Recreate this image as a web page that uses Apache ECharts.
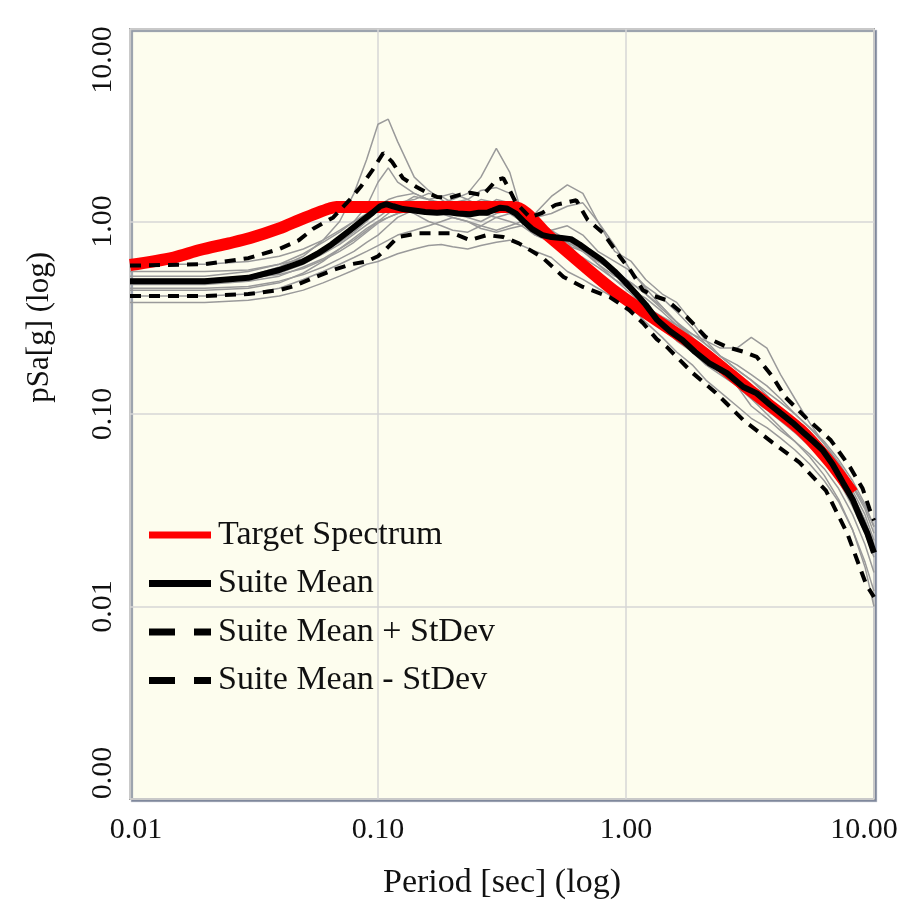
<!DOCTYPE html>
<html>
<head>
<meta charset="utf-8">
<script src="https://cdn.jsdelivr.net/npm/echarts@6/dist/echarts.min.js"></script>
<style>html,body{margin:0;padding:0;background:#fff;}#c{width:909px;height:906px;}</style>
</head>
<body>
<div id="c"></div>
<script>
// ---- data (periods in sec, pSa in g) ----
const targetT = [0.01,0.015,0.0191,0.025,0.0305,0.04,0.0484,0.057,0.064,0.068,0.35,0.494,0.91,1.99,3.16,5.04,6.65,8.2];
const targetSa = [0.594,0.65,0.711,0.77,0.82,0.92,1.02,1.11,1.17,1.19,1.19,0.83,0.43,0.215,0.133,0.083,0.056,0.039];

const meanT = [0.01,0.02,0.03,0.04,0.05,0.057,0.065,0.077,0.087,0.095,0.102,0.108,0.115,0.126,0.14,0.155,0.173,0.19,0.21,0.235,0.255,0.275,0.29,0.31,0.33,0.36,0.39,0.42,0.46,0.5,0.55,0.6,0.65,0.7,0.8,0.9,1.0,1.1,1.2,1.33,1.5,1.69,1.9,2.16,2.55,2.97,3.37,3.8,4.2,4.7,5.2,5.7,6.2,6.8,7.5,8.2,8.8,9.4,10];
const meanSa = [0.49,0.49,0.51,0.56,0.62,0.68,0.76,0.90,1.02,1.11,1.20,1.23,1.20,1.16,1.14,1.12,1.11,1.12,1.10,1.09,1.11,1.11,1.14,1.18,1.17,1.10,0.99,0.91,0.85,0.83,0.82,0.81,0.76,0.71,0.63,0.55,0.48,0.42,0.37,0.31,0.27,0.242,0.21,0.184,0.163,0.138,0.128,0.112,0.101,0.09,0.080,0.072,0.065,0.055,0.044,0.036,0.029,0.024,0.019];

const upperT = [0.01,0.02,0.03,0.04,0.048,0.055,0.066,0.077,0.085,0.095,0.105,0.114,0.126,0.143,0.16,0.173,0.195,0.215,0.235,0.265,0.30,0.32,0.34,0.36,0.41,0.46,0.52,0.63,0.70,0.81,0.95,1.05,1.17,1.3,1.46,1.76,2.1,2.55,3.0,3.37,3.9,4.4,5.3,6.7,8.0,9.0,9.6,10];
const upperSa = [0.59,0.60,0.645,0.72,0.80,0.92,1.05,1.30,1.51,1.85,2.27,2.04,1.68,1.51,1.40,1.34,1.33,1.38,1.41,1.37,1.64,1.68,1.45,1.25,1.05,1.11,1.22,1.29,1.02,0.87,0.65,0.55,0.44,0.41,0.39,0.319,0.251,0.223,0.21,0.198,0.156,0.122,0.096,0.073,0.053,0.041,0.032,0.028];

const lowerT = [0.01,0.02,0.03,0.04,0.0454,0.055,0.066,0.078,0.09,0.1,0.108,0.12,0.147,0.20,0.235,0.275,0.32,0.37,0.46,0.56,0.67,0.86,1.03,1.17,1.33,1.46,1.86,2.3,2.97,3.9,5.0,6.4,7.8,9.3,10];
const lowerSa = [0.41,0.41,0.42,0.44,0.46,0.51,0.56,0.60,0.62,0.66,0.72,0.83,0.87,0.87,0.80,0.85,0.83,0.77,0.65,0.515,0.457,0.405,0.347,0.297,0.245,0.223,0.163,0.129,0.093,0.071,0.056,0.040,0.024,0.013,0.0112];

const recordT = [0.01,0.02,0.03,0.04,0.05,0.06,0.07,0.08,0.09,0.1,0.11,0.12,0.14,0.16,0.18,0.2,0.23,0.26,0.3,0.34,0.38,0.43,0.5,0.58,0.67,0.77,0.9,1.05,1.2,1.4,1.6,1.85,2.1,2.4,2.8,3.2,3.7,4.2,4.8,5.5,6.3,7.2,8.2,9.2,10];
const rec1 = [0.50,0.50,0.52,0.58,0.66,0.80,1.00,1.40,2.10,3.20,3.40,2.60,1.70,1.45,1.30,1.20,1.05,1.00,1.10,1.15,1.00,0.85,0.80,0.78,0.70,0.62,0.55,0.46,0.38,0.30,0.26,0.22,0.19,0.17,0.15,0.13,0.115,0.10,0.088,0.078,0.066,0.052,0.040,0.030,0.022];
const rec2 = [0.47,0.47,0.49,0.52,0.58,0.64,0.72,0.80,0.90,1.00,1.05,1.10,1.15,1.20,1.25,1.30,1.40,1.70,2.40,1.80,1.10,0.90,0.80,0.75,0.70,0.60,0.50,0.42,0.35,0.30,0.26,0.22,0.19,0.17,0.14,0.12,0.105,0.092,0.080,0.068,0.058,0.045,0.033,0.024,0.018];
const rec3 = [0.52,0.52,0.55,0.60,0.68,0.78,0.88,1.00,1.10,1.20,1.30,1.35,1.40,1.30,1.25,1.20,1.15,1.10,1.05,1.00,0.95,1.10,1.35,1.55,1.40,1.00,0.75,0.55,0.45,0.36,0.30,0.25,0.22,0.19,0.16,0.14,0.12,0.10,0.090,0.076,0.064,0.050,0.038,0.028,0.020];
const rec4 = [0.38,0.38,0.39,0.41,0.44,0.48,0.52,0.56,0.60,0.62,0.65,0.68,0.72,0.75,0.76,0.74,0.72,0.75,0.78,0.80,0.75,0.70,0.65,0.55,0.50,0.45,0.40,0.36,0.30,0.25,0.21,0.18,0.15,0.13,0.11,0.095,0.085,0.075,0.065,0.055,0.045,0.035,0.025,0.016,0.010];
const rec5 = [0.44,0.44,0.45,0.48,0.54,0.62,0.72,0.82,0.92,1.00,1.10,1.20,1.35,1.30,1.20,1.15,1.20,1.30,1.25,1.15,1.05,0.95,0.85,0.80,0.70,0.62,0.55,0.48,0.42,0.36,0.30,0.26,0.24,0.22,0.22,0.25,0.22,0.16,0.12,0.090,0.070,0.055,0.042,0.032,0.024];
const rec6 = [0.60,0.60,0.62,0.66,0.72,0.80,0.90,1.00,1.20,1.60,1.90,1.60,1.40,1.30,1.35,1.40,1.30,1.20,1.15,1.10,1.10,1.05,1.10,1.20,1.25,1.00,0.70,0.62,0.50,0.42,0.38,0.30,0.24,0.20,0.17,0.15,0.13,0.115,0.10,0.085,0.072,0.058,0.045,0.034,0.026];
const rec7 = [0.41,0.41,0.42,0.45,0.50,0.55,0.60,0.65,0.70,0.75,0.80,0.85,0.90,0.95,1.00,1.05,1.00,0.95,0.90,0.95,1.00,0.90,0.80,0.70,0.60,0.52,0.45,0.40,0.36,0.32,0.29,0.25,0.20,0.17,0.14,0.12,0.10,0.085,0.072,0.060,0.048,0.036,0.025,0.017,0.012];
const rec8 = [0.48,0.48,0.50,0.54,0.60,0.68,0.76,0.86,0.96,1.05,1.15,1.25,1.30,1.40,1.35,1.25,1.30,1.45,1.50,1.40,1.20,1.00,0.90,0.80,0.72,0.60,0.52,0.48,0.42,0.35,0.30,0.24,0.20,0.18,0.16,0.13,0.11,0.095,0.082,0.070,0.060,0.048,0.036,0.026,0.019];
const rec9 = [0.55,0.55,0.56,0.60,0.64,0.70,0.78,0.88,1.00,1.15,1.25,1.20,1.10,1.00,0.95,0.90,0.88,0.95,1.05,1.10,1.00,0.92,0.85,0.78,0.62,0.50,0.42,0.37,0.33,0.28,0.24,0.21,0.18,0.16,0.14,0.11,0.095,0.082,0.072,0.062,0.052,0.041,0.030,0.021,0.015];
const rec10 = [0.45,0.45,0.46,0.49,0.53,0.58,0.64,0.70,0.78,0.85,0.95,1.05,1.15,1.25,1.20,1.10,1.05,1.15,1.30,1.25,1.10,1.00,0.90,0.95,0.85,0.70,0.62,0.55,0.46,0.40,0.34,0.28,0.23,0.20,0.18,0.16,0.14,0.12,0.10,0.085,0.070,0.056,0.043,0.033,0.026];
const rec11 = [0.50,0.50,0.51,0.53,0.57,0.63,0.70,0.78,0.88,0.98,1.05,1.10,1.20,1.15,1.10,1.05,1.00,0.92,0.88,0.92,0.95,0.85,0.78,0.70,0.65,0.58,0.50,0.44,0.40,0.34,0.29,0.26,0.23,0.20,0.17,0.15,0.125,0.105,0.09,0.075,0.062,0.050,0.038,0.028,0.021];
const records = [rec1,rec2,rec3,rec4,rec5,rec6,rec7,rec8,rec9,rec10,rec11];

const legendNames = ['Target Spectrum','Suite Mean','Suite Mean + StDev','Suite Mean - StDev'];
const xTitle = 'Period [sec] (log)';
const yTitle = 'pSa[g] (log)';

// ---- build ----
const zip = (t, v) => t.map((x, i) => [x, v[i]]);
const FONT = '"Liberation Serif","Times New Roman",serif';
const TICK = 30;
const SOLID_ICON = 'path://M0,0h62v7h-62z';
const DASH_ICON = 'path://M0,0h26v7h-26zM45,0h17v7h-17z';

const series = [];
records.forEach((r, i) => {
  series.push({
    name: 'Record ' + (i + 1), type: 'line', data: zip(recordT, r),
    symbol: 'none', silent: true, z: 1,
    lineStyle: { color: '#9a9a9a', width: 1.5 }
  });
});
series.push({ name: legendNames[0], type: 'line', data: zip(targetT, targetSa), symbol: 'none', smooth: 0.3, z: 2,
  lineStyle: { color: '#ff0000', width: 12 }, itemStyle: { color: '#ff0000' } });
series.push({ name: legendNames[2], type: 'line', data: zip(upperT, upperSa), symbol: 'none', z: 3,
  lineStyle: { color: '#000', width: 4, type: [11, 8], cap: 'butt' }, itemStyle: { color: '#000' } });
series.push({ name: legendNames[3], type: 'line', data: zip(lowerT, lowerSa), symbol: 'none', z: 3,
  lineStyle: { color: '#000', width: 4, type: [11, 8], cap: 'butt' }, itemStyle: { color: '#000' } });
series.push({ name: legendNames[1], type: 'line', data: zip(meanT, meanSa), symbol: 'none', z: 4,
  lineStyle: { color: '#000', width: 6 }, itemStyle: { color: '#000' } });

const chart = echarts.init(document.getElementById('c'));
chart.setOption({
  animation: false,
  backgroundColor: '#ffffff',
  grid: {
    left: 130, top: 29, right: 35, bottom: 107, show: true,
    backgroundColor: '#fdfdee', borderColor: '#a3a3a3', borderWidth: 2,
    shadowColor: 'rgba(120,130,150,0.8)', shadowOffsetX: 2, shadowOffsetY: 2, shadowBlur: 1
  },
  legend: {
    data: [
      { name: legendNames[0], icon: SOLID_ICON, itemStyle: { color: '#ff0000' } },
      { name: legendNames[1], icon: SOLID_ICON, itemStyle: { color: '#000' } },
      { name: legendNames[2], icon: DASH_ICON, itemStyle: { color: '#000' } },
      { name: legendNames[3], icon: DASH_ICON, itemStyle: { color: '#000' } }
    ],
    orient: 'vertical', left: 144, top: 513, itemWidth: 62, itemHeight: 7, itemGap: 14.5,
    textStyle: { fontFamily: FONT, fontSize: 34, color: '#111', padding: [0, 0, 0, 2] }
  },
  xAxis: {
    type: 'log', logBase: 10, min: 0.01, max: 10,
    name: xTitle, nameLocation: 'middle', nameGap: 67,
    nameTextStyle: { fontFamily: FONT, fontSize: 34, color: '#111' },
    axisLine: { show: false }, axisTick: { show: false },
    splitLine: { show: true, lineStyle: { color: '#d6d6d6', width: 1.5 } },
    axisLabel: {
      margin: 16, fontFamily: FONT, fontSize: TICK, color: '#111',
      formatter: function (v) {
        const s = Number(v).toFixed(2);
        if (Math.abs(v - 0.01) < 1e-9) return '{a|0.01}';
        if (Math.abs(v - 10) < 1e-9) return '{b|10.00}';
        return s;
      },
      rich: {
        a: { fontFamily: FONT, fontSize: TICK, color: '#111', padding: [0, 0, 0, 12] },
        b: { fontFamily: FONT, fontSize: TICK, color: '#111', padding: [0, 20, 0, 0] }
      }
    }
  },
  yAxis: {
    type: 'log', logBase: 10, min: 0.001, max: 10,
    axisLine: { show: false }, axisTick: { show: false },
    splitLine: { show: true, lineStyle: { color: '#d6d6d6', width: 1.5 } },
    axisLabel: {
      rotate: 90, margin: 12, fontFamily: FONT, fontSize: TICK, color: '#111',
      formatter: function (v) {
        const s = Number(v).toFixed(2);
        if (Math.abs(v - 10) < 1e-9) return '{t|10.00}';
        if (Math.abs(v - 0.001) < 1e-9) return '{d|0.00}';
        return s;
      },
      rich: {
        t: { fontFamily: FONT, fontSize: TICK, color: '#111', padding: [0, 62, 0, 0] },
        d: { fontFamily: FONT, fontSize: TICK, color: '#111', padding: [0, 0, 0, 52] }
      }
    }
  },
  graphic: [{
    type: 'text', left: 24, top: 252, rotation: Math.PI / 2,
    style: { text: yTitle, font: '31px ' + FONT, fill: '#111' }
  }],
  series: series
});
</script>
</body>
</html>
